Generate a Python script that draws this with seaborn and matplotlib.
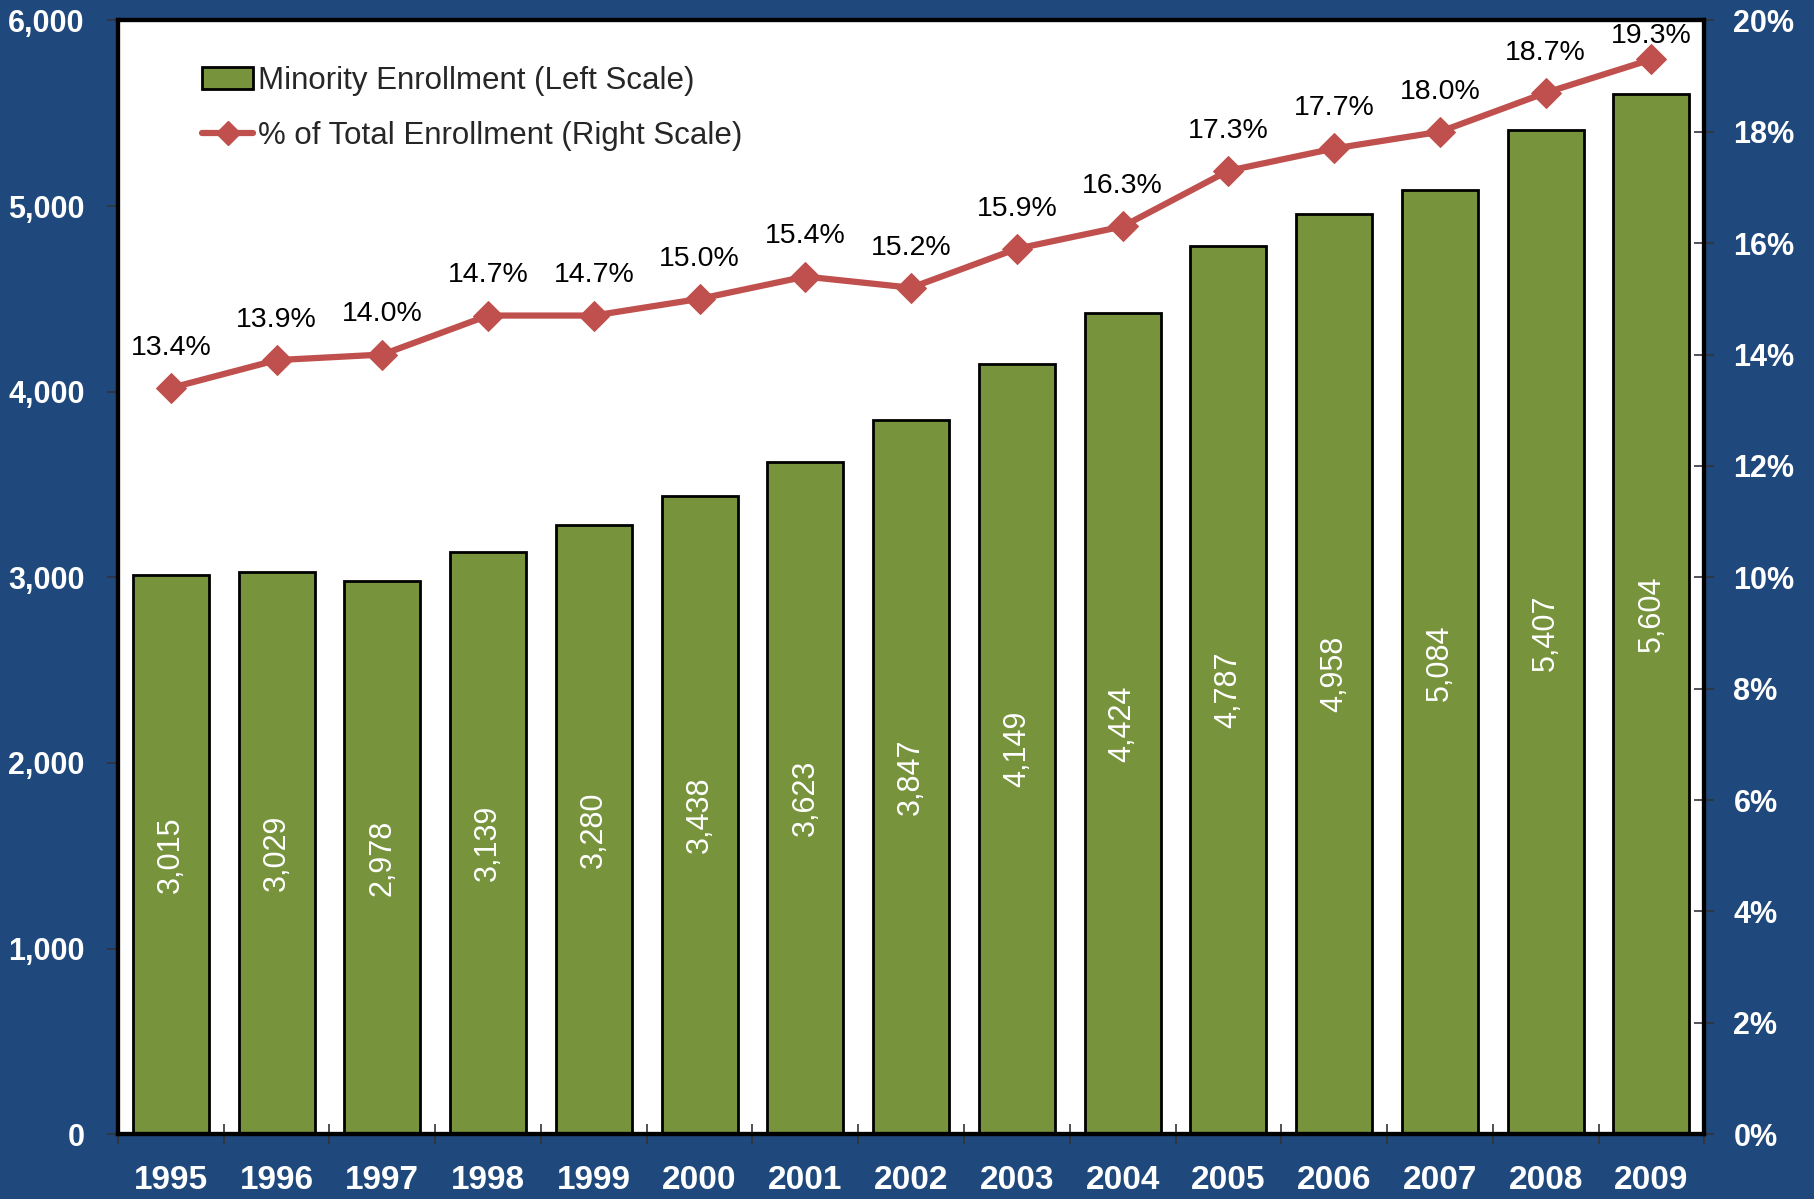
import matplotlib.pyplot as plt
import matplotlib.ticker as mticker
from matplotlib.lines import Line2D
from matplotlib.patches import Patch
import seaborn as sns
import numpy as np
import pandas as pd

years = ['1995', '1996', '1997', '1998', '1999', '2000', '2001', '2002',
         '2003', '2004', '2005', '2006', '2007', '2008', '2009']
enrollment = [3015, 3029, 2978, 3139, 3280, 3438, 3623, 3847,
              4149, 4424, 4787, 4958, 5084, 5407, 5604]
pct_total = [13.4, 13.9, 14.0, 14.7, 14.7, 15.0, 15.4, 15.2,
             15.9, 16.3, 17.3, 17.7, 18.0, 18.7, 19.3]

navy = '#1F497C'
green = '#77933C'
red = '#C0504D'

sns.set_theme(style='white')
plt.rcParams['font.family'] = ['Liberation Sans', 'DejaVu Sans']

df = pd.DataFrame({'year': years, 'enroll': enrollment, 'pct': pct_total})

fig = plt.figure(figsize=(18.15, 11.99), dpi=100, facecolor=navy)
ax = fig.add_axes([0.065, 0.054, 0.874, 0.929])
ax.set_facecolor('white')

sns.barplot(data=df, x='year', y='enroll', color=green, width=0.72,
            edgecolor='black', linewidth=2, saturation=1, ax=ax)
ax.set_ylim(0, 6000)
ax.set_xlim(-0.5, len(years) - 0.5)
ax.set_xlabel('')
ax.set_ylabel('')
ax.yaxis.set_major_locator(mticker.MultipleLocator(1000))
ax.yaxis.set_major_formatter(mticker.FuncFormatter(lambda v, p: f'{v:,.0f}'))

# bar value labels
for i, v in enumerate(enrollment):
    ax.text(i, v / 2, f'{v:,}', rotation=90, ha='center', va='center',
            color='white', fontsize=22)

ax2 = ax.twinx()
x = np.arange(len(years))
sns.lineplot(x=x, y=pct_total, ax=ax2, color=red, linewidth=4.5,
             marker='D', markersize=15, markeredgecolor=red)
ax2.set_ylim(0, 20)
ax2.yaxis.set_major_locator(mticker.MultipleLocator(2))
ax2.yaxis.set_major_formatter(mticker.FuncFormatter(lambda v, p: f'{v:.0f}%'))

for i, v in enumerate(pct_total):
    ax2.text(i, min(v + 0.72, 19.72), f'{v:.1f}%', ha='center', va='center',
             color='black', fontsize=20.5)

# x ticks at category boundaries, labels at centers
ax.set_xticks(x)
ax.set_xticklabels(years)
ax.tick_params(axis='x', length=0, pad=22, labelsize=24, labelcolor='white')
ax.set_xticks(np.arange(-0.5, len(years)), minor=True)
ax.tick_params(axis='x', which='minor', direction='inout', length=14,
               width=1.2, color='#333333', bottom=True)
for lbl in ax.get_xticklabels():
    lbl.set_fontweight('bold')

ax.tick_params(axis='y', direction='out', length=8, width=1.2, color='#333333',
               labelsize=22, labelcolor='white', left=True, pad=16)
ax2.tick_params(axis='y', direction='inout', length=14, width=1.2, color='#333333',
                labelsize=22, labelcolor='white', right=True, pad=14)
for lbl in ax.get_yticklabels() + ax2.get_yticklabels():
    lbl.set_fontweight('bold')

for a in (ax, ax2):
    for s in a.spines.values():
        s.set_color('black')
        s.set_linewidth(3)
    a.grid(False)

handles = [Patch(facecolor=green, edgecolor='black', linewidth=2),
           Line2D([0], [0], color=red, linewidth=4.5, marker='D', markersize=12)]
ax2.legend(handles, ['Minority Enrollment (Left Scale)',
                     '% of Total Enrollment (Right Scale)'],
           loc='upper left', bbox_to_anchor=(0.045, 0.97), frameon=False,
           fontsize=22.5, handlelength=1.65, handletextpad=0.15,
           labelspacing=0.8, borderaxespad=0)

fig.savefig('out.png', dpi=100, facecolor=navy)
